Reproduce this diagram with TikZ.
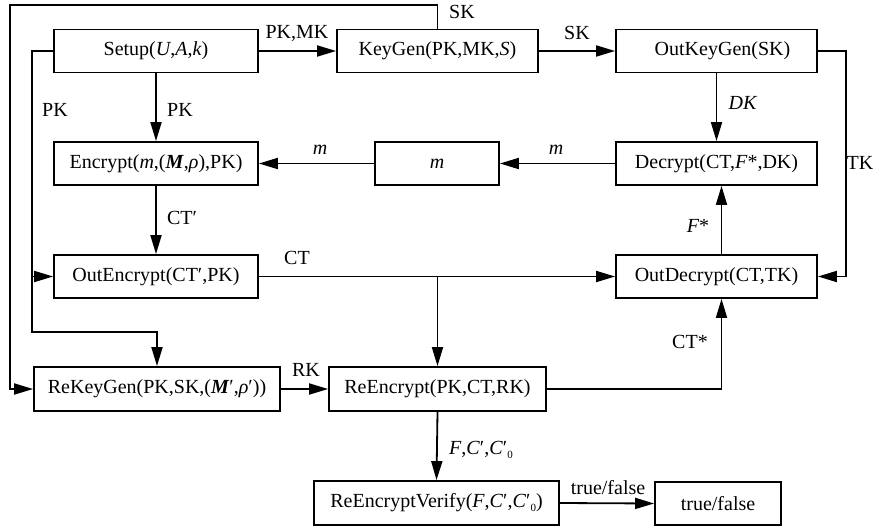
\documentclass[tikz,border=0pt]{standalone}
\usepackage{fontspec}
\setmainfont{Liberation Serif}
\usetikzlibrary{arrows.meta}
\newcommand{\pr}{\char"2032}
\begin{document}
\begin{tikzpicture}[x=1pt,y=-1pt,
  every node/.style={font=\fontsize{20}{23}\selectfont},
  box/.style={draw,line width=1.8pt,minimum height=43pt,inner sep=0pt,anchor=center},
  arr/.style={line width=1.8pt,-{Triangle[length=19pt,width=11pt]}},
  lbl/.style={inner sep=0pt}]
\useasboundingbox (0,0) rectangle (875,527);
% boxes
\node[box,minimum width=204pt] (setup) at (156,51) {Setup(\textit{U},\textit{A},\textit{k})};
\node[box,minimum width=201pt] (keygen) at (437.5,51) {KeyGen(PK,MK,\textit{S})};
\node[box,minimum width=201pt] (outkeygen) at (716.5,51) {\hspace*{12pt}OutKeyGen(SK)};
\node[box,minimum width=204pt] (encrypt) at (156,163.5) {Encrypt(\textit{m},(\textbf{\textit{M}},\textit{ρ}),PK)};
\node[box,minimum width=124pt] (mbox) at (437,163.5) {\textit{m}};
\node[box,minimum width=201pt] (decrypt) at (716.5,163.5) {Decrypt(CT,\textit{F}*,DK)};
\node[box,minimum width=204pt] (outenc) at (156,276.5) {OutEncrypt(CT\pr,PK)};
\node[box,minimum width=201pt] (outdec) at (716.5,276.5) {OutDecrypt(CT,TK)};
\node[box,minimum width=246pt,minimum height=44pt] (rekeygen) at (157,389) {ReKeyGen(PK,SK,(\textbf{\textit{M}}\pr,\textit{ρ}\pr))};
\node[box,minimum width=217pt,minimum height=44pt] (reenc) at (437.5,389) {ReEncrypt(PK,CT,RK)};
\node[box,minimum width=245pt,minimum height=44pt] (rev) at (436.5,503) {ReEncryptVerify(\textit{F},\textit{C}\pr,\textit{C}\pr\raisebox{-0.35ex}{\fontsize{11}{12}\selectfont 0})};
\node[box,minimum width=126pt,minimum height=43pt] (tf) at (718,503.5) {true/false};
% coordinates
\coordinate (c1) at (10,5);
\coordinate (c2) at (32,332);
\coordinate (c3) at (846,163);
\coordinate (c4) at (437.5,276.5);
% connectors
\draw[arr] (setup.east) -- (keygen.west);
\draw[arr] (keygen.north) |- (c1) |- (rekeygen.west);
\draw[arr] (setup.west) -| (c2) -| (rekeygen.north);
\draw[arr] (c2 |- outenc.west) -- (outenc.west);
\draw[arr] (setup.south) -- (encrypt.north);
\draw[arr] (keygen.east) -- (outkeygen.west);
\draw[arr] (outkeygen.south) -- (decrypt.north);
\draw[arr] (outkeygen.east) -| (c3) |- (outdec.east);
\draw[arr] (decrypt.west) -- (mbox.east);
\draw[arr] (mbox.west) -- (encrypt.east);
\draw[arr] (encrypt.south) -- (outenc.north);
\draw[arr] (outenc.east) -- (outdec.west);
\draw[arr] (c4) -- (reenc.north);
\draw[arr] (reenc.east) -| ([xshift=5pt]outdec.south);
\draw[arr] ([xshift=5pt]outdec.north) -- ([xshift=5pt]decrypt.south);
\draw[arr] (rekeygen.east) -- (reenc.west);
\draw[arr] (reenc.south) -- (rev.north);
\draw[arr] (rev.east) -- (tf.west);
% labels
\node[lbl] (l1) at (297,33) {PK,MK};
\node[lbl] (l2) at (462,12) {SK};
\node[lbl] (l3) at (577,33) {SK};
\node[lbl] (l4) at (55,110) {PK};
\node[lbl] (l5) at (180,110) {PK};
\node[lbl] (l6) at (743,103) {\textit{DK}};
\node[lbl] (l7) at (860,163) {TK};
\node[lbl] (l8) at (556,150) {\textit{m}};
\node[lbl] (l9) at (320,150) {\textit{m}};
\node[lbl] (l10) at (182,218) {CT\pr};
\node[lbl] (l11) at (297,258) {CT};
\node[lbl] (l12) at (698,226) {\textit{F}*};
\node[lbl] (l13) at (690,342) {CT*};
\node[lbl] (l14) at (306,370) {RK};
\node[lbl] (l15) at (481,450) {\textit{F},\textit{C}\pr,\textit{C}\pr\raisebox{-0.35ex}{\fontsize{11}{12}\selectfont 0}};
\node[lbl] (l16) at (608,488) {true/false};
\end{tikzpicture}
\end{document}
